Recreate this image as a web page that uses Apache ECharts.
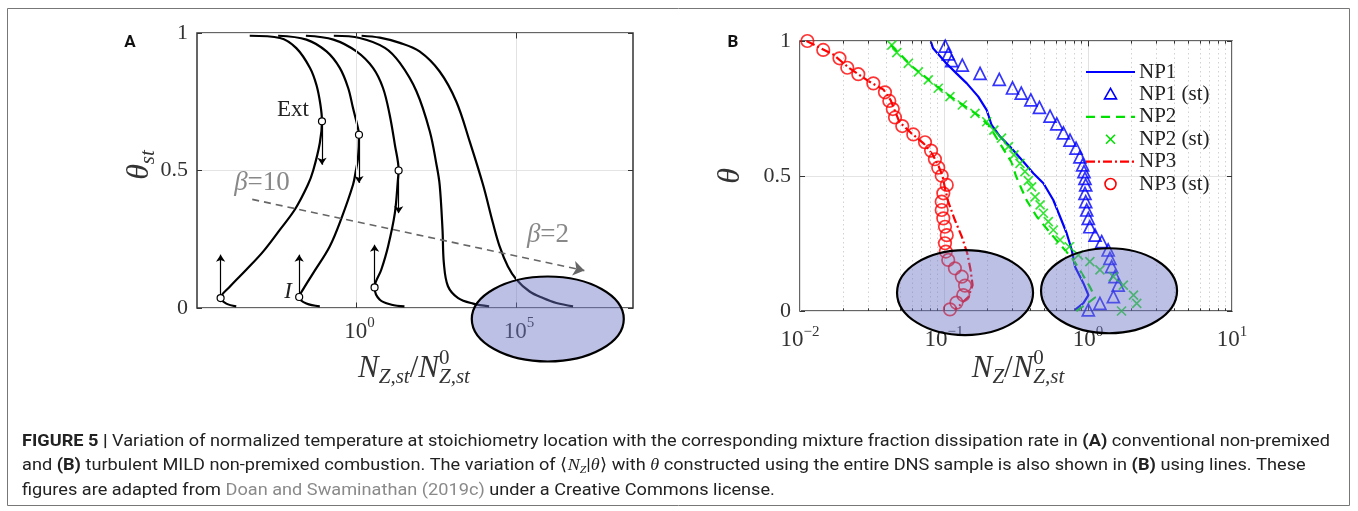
<!DOCTYPE html>
<html>
<head>
<meta charset="utf-8">
<script src="https://cdn.jsdelivr.net/npm/echarts@6/dist/echarts.min.js"></script>
<style>
  html, body { margin: 0; padding: 0; background: #fff; }
  #main { width: 1358px; height: 511px; }
</style>
</head>
<body>
<div id="main"></div>
<script>
// ---------- Panel A: S-curves, theta_st vs N_Z,st / N0_Z,st ----------
const aCurve1N = [4.5e-4, 4.0e-3, 1.3e-2, 3.5e-2, 5.6e-2, 7.4e-2, 8.3e-2, 7.1e-2, 4.4e-2, 3.0e-2, 1.2e-2, 4.0e-3, 1.2e-3, 3.5e-4, 1.1e-4, 5.5e-5, 8.3e-5, 1.7e-4];
const aCurve1Theta = [0.99, 0.982, 0.945, 0.873, 0.81, 0.74, 0.679, 0.60, 0.50, 0.448, 0.36, 0.285, 0.206, 0.139, 0.079, 0.036, 0.016, 0.006];
const aCurve2N = [3.5e-3, 2.7e-2, 0.115, 0.30, 0.55, 0.78, 1.05, 1.2, 1.12, 0.95, 0.78, 0.34, 0.145, 0.044, 0.021, 0.016, 0.027, 0.071];
const aCurve2Theta = [0.99, 0.976, 0.933, 0.873, 0.80, 0.727, 0.667, 0.63, 0.545, 0.497, 0.448, 0.327, 0.224, 0.127, 0.067, 0.04, 0.016, 0.006];
const aCurve3N = [0.026, 0.19, 1.0, 3.3, 6.8, 11, 16, 21, 20, 16, 9.8, 6.0, 3.7, 5.4, 12.6, 32];
const aCurve3Theta = [0.99, 0.976, 0.933, 0.873, 0.80, 0.703, 0.594, 0.5, 0.467, 0.345, 0.224, 0.139, 0.075, 0.03, 0.012, 0.006];
const aCurve4N = [0.195, 1.26, 7.8, 23, 76, 200, 324, 407, 500, 550, 741, 1550, 4570, 14450];
const aCurve4Theta = [0.99, 0.982, 0.946, 0.891, 0.788, 0.642, 0.521, 0.448, 0.285, 0.164, 0.079, 0.036, 0.016, 0.006];
const aCurve5N = [1.45, 5.4, 23, 95, 407, 1350, 3550, 9330, 19050, 30900, 56200, 104700, 269000, 708000, 1.86e6, 6.2e6];
const aCurve5Theta = [0.99, 0.983, 0.964, 0.933, 0.86, 0.751, 0.606, 0.448, 0.309, 0.224, 0.151, 0.103, 0.06, 0.036, 0.018, 0.006];

// extinction (Ext) and ignition (I) turning points
const extN = [0.083, 1.2, 21];
const extTheta = [0.679, 0.63, 0.5];
const extArrowEndTheta = [0.521, 0.455, 0.345];
const ignN = [5.5e-5, 0.016, 3.7];
const ignTheta = [0.036, 0.04, 0.075];
const ignArrowEndTheta = [0.194, 0.194, 0.23];

// beta trend arrow (beta = 10 -> beta = 2)
const betaArrowN = [5.4e-4, 1.4e7];
const betaArrowTheta = [0.395, 0.136];

// ---------- Panel B: <N_Z | theta> for NP1..NP3 ----------
const np1LineN = [0.081, 0.084, 0.104, 0.122, 0.144, 0.173, 0.198, 0.214, 0.245, 0.287, 0.356, 0.417, 0.49, 0.574, 0.64, 0.711, 0.771, 0.813, 0.929, 1.007, 0.929, 0.813];
const np1LineTheta = [0.998, 0.973, 0.917, 0.88, 0.843, 0.794, 0.744, 0.689, 0.646, 0.609, 0.553, 0.51, 0.473, 0.411, 0.349, 0.288, 0.226, 0.164, 0.103, 0.059, 0.029, 0.004];
const np1StN = [0.102, 0.107, 0.113, 0.134, 0.178, 0.242, 0.299, 0.344, 0.401, 0.46, 0.545, 0.607, 0.675, 0.75, 0.826, 0.879, 0.918, 0.938, 0.953, 0.964, 0.953, 0.964, 0.98, 1.005, 1.03, 1.12, 1.245, 1.38, 1.42, 1.46, 1.54, 1.62, 1.50, 1.21, 1.005];
const np1StTheta = [0.981, 0.952, 0.927, 0.911, 0.88, 0.858, 0.826, 0.807, 0.782, 0.754, 0.722, 0.693, 0.66, 0.633, 0.603, 0.571, 0.541, 0.516, 0.491, 0.467, 0.436, 0.405, 0.374, 0.343, 0.312, 0.281, 0.257, 0.226, 0.195, 0.164, 0.127, 0.096, 0.053, 0.028, 0.004];

const np2LineN = [0.0427, 0.0617, 0.107, 0.178, 0.209, 0.245, 0.295, 0.316, 0.347, 0.375, 0.44, 0.545, 0.656, 0.79, 0.904, 1.03, 1.12, 1.0, 0.83];
const np2LineTheta = [0.985, 0.90, 0.80, 0.72, 0.68, 0.62, 0.55, 0.50, 0.45, 0.41, 0.35, 0.29, 0.24, 0.19, 0.14, 0.09, 0.05, 0.03, 0.0];
const np2StN = [0.0434, 0.047, 0.0565, 0.0664, 0.0778, 0.0912, 0.110, 0.134, 0.164, 0.198, 0.222, 0.251, 0.280, 0.306, 0.337, 0.365, 0.385, 0.406, 0.429, 0.465, 0.49, 0.53, 0.574, 0.64, 0.741, 0.857, 1.03, 1.21, 1.50, 1.76, 2.07, 2.18, 1.71];
const np2StTheta = [0.985, 0.957, 0.917, 0.886, 0.856, 0.825, 0.794, 0.763, 0.732, 0.701, 0.67, 0.64, 0.609, 0.578, 0.547, 0.516, 0.483, 0.46, 0.423, 0.393, 0.362, 0.331, 0.30, 0.263, 0.238, 0.207, 0.183, 0.152, 0.127, 0.096, 0.059, 0.028, 0.0];

const np3LineN = [0.0111, 0.017, 0.0219, 0.0302, 0.038, 0.0427, 0.0457, 0.049, 0.0589, 0.0724, 0.0832, 0.0912, 0.0977, 0.102, 0.107, 0.119, 0.133, 0.145, 0.153, 0.158, 0.148, 0.129, 0.119];
const np3LineTheta = [1.0, 0.95, 0.9, 0.85, 0.82, 0.78, 0.74, 0.70, 0.66, 0.62, 0.58, 0.54, 0.50, 0.45, 0.405, 0.337, 0.275, 0.214, 0.152, 0.096, 0.053, 0.022, 0.004];
const np3StN = [0.01125, 0.0145, 0.0188, 0.0213, 0.0254, 0.0323, 0.0389, 0.0417, 0.0441, 0.0457, 0.0513, 0.0612, 0.0738, 0.0813, 0.0865, 0.0912, 0.0964, 0.1045, 0.0989, 0.0964, 0.0964, 0.0989, 0.1016, 0.1045, 0.1016, 0.103, 0.107, 0.119, 0.133, 0.14, 0.136, 0.122, 0.110];
const np3StTheta = [1.0, 0.967, 0.936, 0.901, 0.877, 0.843, 0.81, 0.778, 0.748, 0.717, 0.685, 0.654, 0.625, 0.594, 0.562, 0.531, 0.501, 0.467, 0.436, 0.405, 0.374, 0.343, 0.312, 0.281, 0.251, 0.22, 0.189, 0.158, 0.127, 0.094, 0.059, 0.031, 0.006];

// minor (dotted) grid positions for the log axis in panel B
const minorGridB = [0.02, 0.03, 0.04, 0.05, 0.06, 0.07, 0.08, 0.09, 0.2, 0.3, 0.4, 0.5, 0.6, 0.7, 0.8, 0.9, 2, 3, 4, 5, 6, 7, 8, 9];
const decadesB = [0.1, 1];
const majorGridA = [1, 1e5];
const tickLabelsA = [[1, '0'], [1e5, '5']];

// highlighted regions (centre in data units, radii in px)
const ellipseA = { center: [1e6, -0.04], rx: 76, ry: 42.5 };
const ellipsesB = [{ center: [0.14, 0.068], rx: 68, ry: 42.5 }, { center: [1.4, 0.075], rx: 68, ry: 42.5 }];

const SERIF = '"Liberation Serif", "DejaVu Serif", serif';
const SANS = 'Roboto, "Liberation Sans", Arial, sans-serif';
const BLUE = '#0000ff', GREEN = '#00e000', RED = '#ff0000';
const DASH_NP2 = [9, 6], DASH_NP3 = [9, 3, 2, 3];
const CROSS = 'path://M0,0L10,10M10,0L0,10';

const zip = (xs, ys) => xs.map((x, i) => [x, ys[i]]);

const chart = echarts.init(document.getElementById('main'), null, { renderer: 'canvas' });

const yAxisBase = (gridIndex, position, showLabel) => ({
  type: 'value', gridIndex, position, min: 0, max: 1, interval: 0.5,
  axisLine: { show: false },
  axisTick: { show: true, inside: true, length: 5, lineStyle: { color: '#333', width: 1 } },
  axisLabel: { show: showLabel, margin: 9, fontFamily: SERIF, fontSize: 22, color: '#333' },
  splitLine: { show: showLabel, lineStyle: { color: '#e4e4e4', width: 1 } }
});

const curveA = (xs, ys) => ({
  type: 'line', xAxisIndex: 0, yAxisIndex: 0, data: zip(xs, ys), symbol: 'none',
  smooth: 0.35, lineStyle: { color: '#000', width: 2.2 }, z: 4, silent: true
});

// short inward ticks on the top and bottom frame edges
const edgeTicks = (values, len) => values.flatMap(v => [
  [{ coord: [v, 0] }, { coord: [v, len] }],
  [{ coord: [v, 1] }, { coord: [v, 1 - len] }]
]);

const option = {
  animation: false,
  backgroundColor: '#fff',
  grid: [
    { left: 197, top: 33, width: 436, height: 275, show: true, borderColor: '#333', borderWidth: 1.5, backgroundColor: 'transparent', outerBoundsMode: 'none' },
    { left: 800, top: 41, width: 432, height: 270, show: true, borderColor: '#333', borderWidth: 1.5, backgroundColor: 'transparent', outerBoundsMode: 'none' }
  ],
  xAxis: [
    { type: 'log', logBase: 10, gridIndex: 0, min: 1e-5, max: 4.7e8,
      axisLine: { show: false }, axisTick: { show: false }, axisLabel: { show: false }, splitLine: { show: false } },
    { type: 'log', logBase: 10, gridIndex: 1, min: 0.01, max: 10,
      axisLine: { show: false },
      axisTick: { show: false },
      axisLabel: {
        margin: 14,
        formatter: v => {
          const e = Math.round(Math.log10(v));
          return '{b|10}{s|' + (e < 0 ? '\u2212' : '') + Math.abs(e) + '}';
        },
        rich: {
          b: { fontFamily: SERIF, fontSize: 23, color: '#333', lineHeight: 30 },
          s: { fontFamily: SERIF, fontSize: 15, color: '#333', verticalAlign: 'top', lineHeight: 14 }
        }
      },
      splitLine: { show: true, lineStyle: { color: '#e2e2e2', width: 1 } } }
  ],
  yAxis: [
    yAxisBase(0, 'left', true),
    yAxisBase(1, 'left', true),
    yAxisBase(0, 'right', false),
    yAxisBase(1, 'right', false)
  ],
  series: [
    // panel A guide lines and frame ticks
    { name: 'gridA', type: 'line', xAxisIndex: 0, yAxisIndex: 0, data: [], symbol: 'none', silent: true, z: 1,
      markLine: { silent: true, symbol: ['none', 'none'], label: { show: false },
        lineStyle: { color: '#e2e2e2', width: 1, type: 'solid' },
        data: majorGridA.map(v => ({ xAxis: v })) } },
    { name: 'ticksA', type: 'line', xAxisIndex: 0, yAxisIndex: 0, data: [], symbol: 'none', silent: true, z: 2,
      markLine: { silent: true, symbol: ['none', 'none'], label: { show: false },
        lineStyle: { color: '#333', width: 1, type: 'solid' },
        data: edgeTicks(majorGridA, 0.02) } },
    curveA(aCurve1N, aCurve1Theta),
    curveA(aCurve2N, aCurve2Theta),
    curveA(aCurve3N, aCurve3Theta),
    curveA(aCurve4N, aCurve4Theta),
    curveA(aCurve5N, aCurve5Theta),
    // turning-point arrows
    { name: 'arrowsA', type: 'line', xAxisIndex: 0, yAxisIndex: 0, data: [], symbol: 'none', silent: true, z: 3,
      markLine: { silent: true, symbol: ['none', 'arrow'], symbolSize: 7, label: { show: false },
        lineStyle: { color: '#000', width: 1.2, type: 'solid' },
        data: extN.map((n, i) => [{ coord: [n, extTheta[i]] }, { coord: [n, extArrowEndTheta[i]] }])
          .concat(ignN.map((n, i) => [{ coord: [n, ignTheta[i]] }, { coord: [n, ignArrowEndTheta[i]] }])) } },
    // beta trend arrow
    { name: 'betaA', type: 'line', xAxisIndex: 0, yAxisIndex: 0, data: [], symbol: 'none', silent: true, z: 3,
      markLine: { silent: true, symbol: ['none', 'arrow'], symbolSize: 11, label: { show: false },
        lineStyle: { color: '#666', width: 1.6, type: [7, 5] },
        data: [[{ coord: [betaArrowN[0], betaArrowTheta[0]] }, { coord: [betaArrowN[1], betaArrowTheta[1]] }]] } },
    { name: 'points', type: 'scatter', xAxisIndex: 0, yAxisIndex: 0, silent: true, z: 6,
      data: zip(extN, extTheta).concat(zip(ignN, ignTheta)), symbol: 'circle', symbolSize: 7,
      itemStyle: { color: '#fff', borderColor: '#000', borderWidth: 1.2, opacity: 1 } },

    // panel B minor grid and frame ticks
    { name: 'gridB', type: 'line', xAxisIndex: 1, yAxisIndex: 1, data: [], symbol: 'none', silent: true, z: 1,
      markLine: { silent: true, symbol: ['none', 'none'], label: { show: false },
        lineStyle: { color: '#d2d2d2', width: 1, type: [1.5, 3] },
        data: minorGridB.map(v => ({ xAxis: v })) } },
    { name: 'ticksB', type: 'line', xAxisIndex: 1, yAxisIndex: 1, data: [], symbol: 'none', silent: true, z: 2,
      markLine: { silent: true, symbol: ['none', 'none'], label: { show: false },
        lineStyle: { color: '#333', width: 1, type: 'solid' },
        data: edgeTicks(decadesB, 0.02).concat(edgeTicks(minorGridB, 0.01)) } },
    { name: 'NP1', type: 'line', xAxisIndex: 1, yAxisIndex: 1, data: zip(np1LineN, np1LineTheta), symbol: 'none',
      lineStyle: { color: BLUE, width: 2.2 }, itemStyle: { color: BLUE }, z: 4 },
    { name: 'NP1 (st)', type: 'scatter', xAxisIndex: 1, yAxisIndex: 1, data: zip(np1StN, np1StTheta), symbol: 'triangle', symbolSize: 12,
      itemStyle: { color: 'rgba(0,0,0,0)', borderColor: BLUE, borderWidth: 1.7 }, z: 5 },
    { name: 'NP2', type: 'line', xAxisIndex: 1, yAxisIndex: 1, data: zip(np2LineN, np2LineTheta), symbol: 'none',
      lineStyle: { color: GREEN, width: 2.2, type: DASH_NP2 }, itemStyle: { color: GREEN }, z: 4 },
    { name: 'NP2 (st)', type: 'scatter', xAxisIndex: 1, yAxisIndex: 1, data: zip(np2StN, np2StTheta), symbol: CROSS, symbolSize: 9,
      itemStyle: { color: 'rgba(0,0,0,0)', borderColor: GREEN, borderWidth: 1.7 }, z: 5 },
    { name: 'NP3', type: 'line', xAxisIndex: 1, yAxisIndex: 1, data: zip(np3LineN, np3LineTheta), symbol: 'none',
      lineStyle: { color: RED, width: 2.2, type: DASH_NP3 }, itemStyle: { color: RED }, z: 4 },
    { name: 'NP3 (st)', type: 'scatter', xAxisIndex: 1, yAxisIndex: 1, data: zip(np3StN, np3StTheta), symbol: 'circle', symbolSize: 12.5,
      itemStyle: { color: 'rgba(0,0,0,0)', borderColor: RED, borderWidth: 1.7 }, z: 5 }
  ]
};

chart.setOption(option);

// ---------- text helpers ----------
const measureCtx = document.createElement('canvas').getContext('2d');
function fontStr(p) {
  return (p.style || 'normal') + ' ' + (p.weight || 'normal') + ' ' + p.size + 'px ' + (p.family || SERIF);
}
function textWidth(t, font) { measureCtx.font = font; return measureCtx.measureText(t).width; }

// lays out a run of text pieces; a piece with stack:true shares the x of the previous one
function mathLabel(parts, cx, cy, color, z, align) {
  let x = 0, prevX = 0;
  const items = parts.map(p => {
    const font = fontStr(p);
    const w = textWidth(p.t, font);
    let px;
    if (p.stack) { px = prevX; x = Math.max(x, prevX + w); }
    else { px = x; prevX = x; x += w + (p.gap || 0); }
    return { p, font, px };
  });
  const x0 = align === 'left' ? cx : cx - x / 2;
  return items.map(it => ({
    type: 'text', x: x0 + it.px, y: cy + (it.p.dy || 0), z, silent: true,
    style: { text: it.p.t, font: it.font, fill: it.p.color || color, align: 'left', verticalAlign: 'middle' }
  }));
}

const toPxA = v => chart.convertToPixel({ xAxisIndex: 0, yAxisIndex: 0 }, v);
const toPxB = v => chart.convertToPixel({ xAxisIndex: 1, yAxisIndex: 1 }, v);

const graphics = [];

// figure frame
graphics.push({ type: 'rect', z: 0, silent: true, shape: { x: 7.5, y: 8.5, width: 1342, height: 497 },
  style: { fill: 'none', stroke: '#777', lineWidth: 1 } });

// panel letters
graphics.push({ type: 'text', x: 130, y: 43, z: 20, silent: true,
  style: { text: 'A', font: 'bold 17px ' + SANS, fill: '#111', align: 'center', verticalAlign: 'middle' } });
graphics.push({ type: 'text', x: 733, y: 43, z: 20, silent: true,
  style: { text: 'B', font: 'bold 17px ' + SANS, fill: '#111', align: 'center', verticalAlign: 'middle' } });

// panel A x tick labels (10^0, 10^5)
tickLabelsA.forEach(([v, e]) => {
  const p = toPxA([v, 0]);
  graphics.push(...mathLabel([
    { t: '10', size: 23 },
    { t: e, size: 15, dy: -9 }
  ], p[0] + 3, p[1] + 24, '#333', 2));
});

// axis names
graphics.push(...mathLabel([
  { t: 'N', size: 31, style: 'italic' },
  { t: 'Z,st', size: 21, style: 'italic', dy: 8 },
  { t: '/', size: 31 },
  { t: 'N', size: 31, style: 'italic' },
  { t: '0', size: 21, dy: -11 },
  { t: 'Z,st', size: 21, style: 'italic', dy: 8, stack: true }
], 414, 369, '#333', 2));
graphics.push(...mathLabel([
  { t: 'N', size: 31, style: 'italic' },
  { t: 'Z', size: 21, style: 'italic', dy: 8 },
  { t: '/', size: 31 },
  { t: 'N', size: 31, style: 'italic' },
  { t: '0', size: 21, dy: -11 },
  { t: 'Z,st', size: 21, style: 'italic', dy: 8, stack: true }
], 1018, 369, '#333', 2));
graphics.push({ type: 'group', x: 140, y: 165, rotation: Math.PI / 2, z: 2, children: mathLabel([
  { t: '\u03b8', size: 32, style: 'italic' },
  { t: 'st', size: 21, style: 'italic', dy: 8 }
], 0, 0, '#333', 2) });
graphics.push({ type: 'group', x: 731, y: 176, rotation: Math.PI / 2, z: 2, children: mathLabel([
  { t: '\u03b8', size: 32, style: 'italic' }
], 0, 0, '#333', 2) });

// annotations in panel A
graphics.push({ type: 'text', x: 293, y: 110, z: 8, silent: true,
  style: { text: 'Ext', font: '23px ' + SERIF, fill: '#222', align: 'center', verticalAlign: 'middle' } });
graphics.push({ type: 'text', x: 288, y: 292, z: 8, silent: true,
  style: { text: 'I', font: 'italic 23px ' + SERIF, fill: '#222', align: 'center', verticalAlign: 'middle' } });
graphics.push(...mathLabel([
  { t: '\u03b2', size: 27, style: 'italic' }, { t: '=10', size: 27 }
], 262, 183, '#888', 8));
graphics.push(...mathLabel([
  { t: '\u03b2', size: 27, style: 'italic' }, { t: '=2', size: 27 }
], 548, 235, '#888', 8));

// legend for panel B
const legendItems = [
  { name: 'NP1', kind: 'line', color: BLUE },
  { name: 'NP1 (st)', kind: 'triangle', color: BLUE },
  { name: 'NP2', kind: 'line', color: GREEN, dash: DASH_NP2 },
  { name: 'NP2 (st)', kind: 'cross', color: GREEN },
  { name: 'NP3', kind: 'line', color: RED, dash: DASH_NP3 },
  { name: 'NP3 (st)', kind: 'circle', color: RED }
];
legendItems.forEach((it, i) => {
  const y = 72 + i * 22.4;
  const x0 = 1086, x1 = 1135, xm = (x0 + x1) / 2;
  if (it.kind === 'line') {
    graphics.push({ type: 'line', z: 30, silent: true, shape: { x1: x0, y1: y, x2: x1, y2: y },
      style: { stroke: it.color, lineWidth: 2.2, lineDash: it.dash || null } });
  } else if (it.kind === 'triangle') {
    graphics.push({ type: 'polygon', z: 30, silent: true,
      shape: { points: [[xm, y - 6], [xm - 6, y + 4.5], [xm + 6, y + 4.5]] },
      style: { fill: 'none', stroke: it.color, lineWidth: 1.6 } });
  } else if (it.kind === 'cross') {
    graphics.push({ type: 'line', z: 30, silent: true, shape: { x1: xm - 4.5, y1: y - 4.5, x2: xm + 4.5, y2: y + 4.5 },
      style: { stroke: it.color, lineWidth: 1.6 } });
    graphics.push({ type: 'line', z: 30, silent: true, shape: { x1: xm + 4.5, y1: y - 4.5, x2: xm - 4.5, y2: y + 4.5 },
      style: { stroke: it.color, lineWidth: 1.6 } });
  } else {
    graphics.push({ type: 'circle', z: 30, silent: true, shape: { cx: xm, cy: y, r: 5.5 },
      style: { fill: 'none', stroke: it.color, lineWidth: 1.6 } });
  }
  graphics.push({ type: 'text', x: 1139, y, z: 30, silent: true,
    style: { text: it.name, font: '21px ' + SERIF, fill: '#222', align: 'left', verticalAlign: 'middle' } });
});

// highlighted regions
const ellipseStyle = { fill: 'rgba(108,116,198,0.45)', stroke: '#000', lineWidth: 2.2 };
[[toPxA, ellipseA]].concat(ellipsesB.map(e => [toPxB, e])).forEach(([fn, e]) => {
  const c = fn(e.center);
  graphics.push({ type: 'ellipse', z: 50, silent: true,
    shape: { cx: c[0], cy: c[1], rx: e.rx, ry: e.ry }, style: ellipseStyle });
});

// caption
const CAP = 17;
const capLines = [
  [ { t: 'FIGURE 5 | ', w: 'bold' },
    { t: 'Variation of normalized temperature at stoichiometry location with the corresponding mixture fraction dissipation rate in ' },
    { t: '(A)', w: 'bold' },
    { t: ' conventional non-premixed' } ],
  [ { t: 'and ' }, { t: '(B)', w: 'bold' },
    { t: ' turbulent MILD non-premixed combustion. The variation of \u27e8' },
    { t: 'N', f: SERIF, s: 'italic' }, { t: 'Z', f: SERIF, s: 'italic', size: 11, dy: 4 },
    { t: '|' }, { t: '\u03b8', f: SERIF, s: 'italic' }, { t: '\u27e9 with ' },
    { t: '\u03b8', f: SERIF, s: 'italic' },
    { t: ' constructed using the entire DNS sample is also shown in ' },
    { t: '(B)', w: 'bold' }, { t: ' using lines. These' } ],
  [ { t: 'figures are adapted from ' },
    { t: 'Doan and Swaminathan (2019c)', c: '#8a8a8a' },
    { t: ' under a Creative Commons license.' } ]
];
const capY = [442, 466, 491];
const segFont = sgm => (sgm.s || 'normal') + ' ' + (sgm.w || 'normal') + ' ' + (sgm.size || CAP) + 'px ' + (sgm.f || SANS);
const natural = capLines[0].reduce((a, sgm) => a + textWidth(sgm.t, segFont(sgm)), 0);
const capScale = 1308 / natural;
capLines.forEach((line, li) => {
  let x = 22;
  line.forEach(sgm => {
    const font = segFont(sgm);
    graphics.push({ type: 'text', x, y: capY[li] + (sgm.dy || 0), scaleX: capScale, z: 20, silent: true,
      style: { text: sgm.t, font, fill: sgm.c || '#222', align: 'left', verticalAlign: 'middle' } });
    x += textWidth(sgm.t, font) * capScale;
  });
});

chart.setOption({ graphic: { elements: graphics } });
</script>
</body>
</html>
